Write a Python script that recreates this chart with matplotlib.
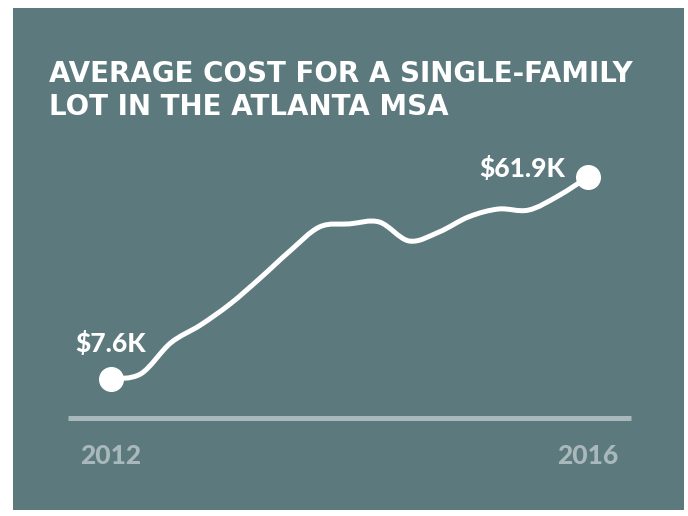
import numpy as np
import matplotlib.pyplot as plt
from matplotlib.path import Path
from matplotlib.patches import PathPatch, Rectangle

# quarterly average lot cost, $K
years = 2012 + np.arange(17) / 4
cost = [7.6, 9.0, 17.3, 22.1, 27.8, 34.7, 42.0, 48.5, 49.3,
        49.8, 44.7, 47.1, 51.2, 53.3, 53.0, 56.8, 61.9]
tick_years = [2012, 2016]
tick_labels = ['2012', '2016']
title_lines = ['AVERAGE COST FOR A SINGLE-FAMILY', 'LOT IN THE ATLANTA MSA']

panel = '#5c797d'
axis_grey = '#a9b8bb'

fig = plt.figure(figsize=(6.88, 5.16), dpi=100, facecolor='white')
fig.patches.append(Rectangle((13 / 688, 6 / 516), 671 / 688, 502 / 516,
                             transform=fig.transFigure, facecolor=panel,
                             edgecolor='none', zorder=0))

ax = fig.add_axes([68 / 688, 1 - 418 / 516, 563 / 688, 268 / 516])
ax.set_zorder(2)
ax.set_facecolor('none')
ax.set_xlim(2011.639, 2016.361)
ax.set_ylim(-2.88, 69.16)

# smooth curve through the points (catmull-rom -> cubic bezier)
x = np.asarray(years, float)
y = np.asarray(cost, float)
verts = [(x[0], y[0])]
codes = [Path.MOVETO]
for i in range(len(x) - 1):
    p0 = np.array([x[max(i - 1, 0)], y[max(i - 1, 0)]])
    p1 = np.array([x[i], y[i]])
    p2 = np.array([x[i + 1], y[i + 1]])
    p3 = np.array([x[min(i + 2, len(x) - 1)], y[min(i + 2, len(x) - 1)]])
    c1 = p1 + (p2 - p0) / 6
    c2 = p2 - (p3 - p1) / 6
    verts += [tuple(c1), tuple(c2), tuple(p2)]
    codes += [Path.CURVE4] * 3
ax.add_patch(PathPatch(Path(verts, codes), facecolor='none', edgecolor='white',
                       lw=3.6, capstyle='round', joinstyle='round', zorder=3))

ax.plot([x[0], x[-1]], [y[0], y[-1]], 'o', color='white', ms=17, zorder=4)

ax.annotate('$%.1fK' % cost[0], (years[0], cost[0]), xytext=(0, 19.5),
            textcoords='offset points', ha='center', va='baseline',
            color='white', fontsize=19, fontweight='black', family='Lato')
ax.annotate('$%.1fK' % cost[-1], (years[-1], cost[-1]), xytext=(-47.5, 0),
            textcoords='offset points', ha='center', va='baseline',
            color='white', fontsize=19, fontweight='black', family='Lato')

for s in ['top', 'left', 'right']:
    ax.spines[s].set_visible(False)
ax.spines['bottom'].set_color(axis_grey)
ax.spines['bottom'].set_linewidth(3.6)
ax.spines['bottom'].set_capstyle('butt')
ax.set_yticks([])
ax.set_xticks(tick_years)
ax.set_xticklabels(tick_labels, fontsize=19, fontweight='black', family='Lato',
                   color=axis_grey)
ax.tick_params(axis='x', length=0, pad=19)

for i, line in enumerate(title_lines):
    fig.text(49 / 688, 1 - (82 + 33 * i) / 516, line, ha='left', va='baseline',
             color='white', fontsize=20, fontweight='bold', family='DejaVu Sans')

fig.savefig('out.png', dpi=100, facecolor='white')
